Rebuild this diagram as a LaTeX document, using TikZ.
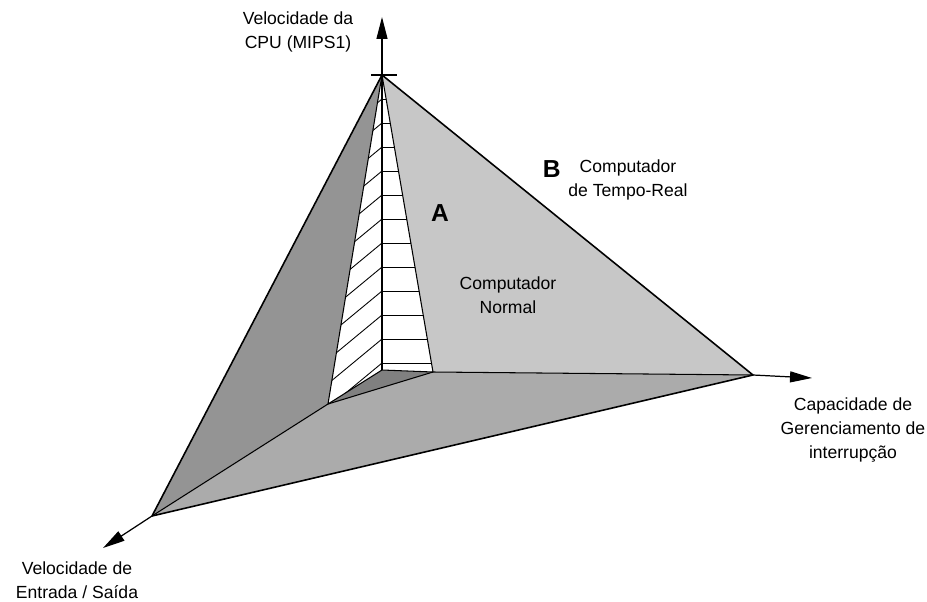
\documentclass[tikz,border=0pt]{standalone}
\usepackage{fontspec}
\setmainfont{Liberation Sans}
\usetikzlibrary{positioning, arrows.meta}

\begin{document}
\begin{tikzpicture}[
	x=0.02cm, y=-0.02cm,
	edge/.style={
		line width=0.9pt,
		draw=black,
		line join=round
	},
	inner/.style={
		line width=0.6pt,
		draw=black,
		line join=round
	},
	hatch/.style={
		line width=0.5pt,
		draw=black
	},
	axis/.style={
		line width=0.7pt,
		-{Triangle[length=0.44cm, width=0.22cm]}
	},
	caption/.style={
		align=center,
		font=\fontsize{10}{13.6}\selectfont,
		inner sep=0pt
	},
	letter/.style={
		font=\fontsize{14}{16}\selectfont\bfseries,
		inner sep=0pt
	}
	]
	\useasboundingbox (0,0) rectangle (927,602);

	% corners of the solid
	\coordinate (apex) at (382,75);
	\coordinate (right) at (753,375);
	\coordinate (left) at (152,516);
	\coordinate (origin) at (328,404);
	\coordinate (foot) at (382,370);
	\coordinate (edge) at (433,372);
	\coordinate (upTip) at (382,17);
	\coordinate (rightTip) at (812,378);
	\coordinate (leftTip) at (103,548);

	% faces
	\fill[black!42] (apex) -- (left) -- (origin) -- cycle;
	\fill[black!33] (left) -- (origin) -- (edge) -- (right) -- cycle;
	\fill[black!22] (apex) -- (edge) -- (right) -- cycle;
	\fill[black!50] (origin) -- (foot) -- (edge) -- cycle;
	\fill[white] (apex) -- (origin) -- (foot) -- (edge) -- cycle;

	% hatching of the inner cone
	\begin{scope}
		\clip (apex) -- (foot) -- (edge) -- cycle;
		\foreach \y in {99,123,...,363}{
			\draw[hatch] (382,\y) -- (450,\y);
		}
	\end{scope}
	\begin{scope}
		\clip (apex) -- (origin) -- (foot) -- cycle;
		\foreach \y in {99,123,...,363}{
			\draw[hatch] (382,\y) -- (272,\y+91);
		}
	\end{scope}

	\draw[inner] (apex) -- (foot);
	\draw[inner] (apex) -- (origin) -- (foot) -- (edge) -- cycle;
	\draw[inner] (origin) -- (edge) -- (right);
	\draw[inner] (left) -- (origin);
	\draw[edge] (right) -- (apex) -- (left) -- cycle;

	% axes
	\draw[axis] (apex) -- (upTip);
	\draw[axis] (right) -- (rightTip);
	\draw[axis] (left) -- (leftTip);
	\draw[inner] (371,75) -- (397,75);

	% labels
	\node[caption] (cpu) at (298,32) {Velocidade da\\CPU (MIPS1)};
	\node[caption] (irq) at (853,430) {Capacidade de\\Gerenciamento de\\interrupção};
	\node[caption] (io) at (77,580) {Velocidade de\\Entrada / Saída};
	\node[caption] (normal) at (508,295) {Computador\\Normal};
	\node[caption] (realtime) at (628,180) {Computador\\de Tempo-Real};
	\node[letter] (A) at (440,213) {A};
	\node[letter, left=0.14cm of realtime.north west, anchor=north east, yshift=-0.02cm] (B) {B};
\end{tikzpicture}
\end{document}
